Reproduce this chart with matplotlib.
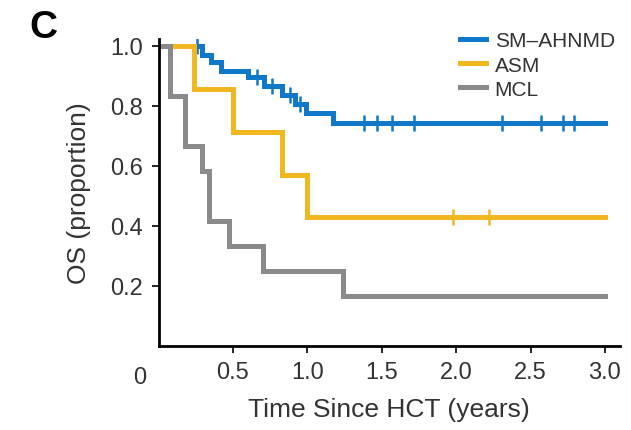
import numpy as np
import matplotlib
matplotlib.use('Agg')
import matplotlib.pyplot as plt

plt.rcParams['font.family'] = ['Liberation Sans', 'DejaVu Sans']

# Kaplan-Meier curves
sm_t = [0, 0.29, 0.35, 0.42, 0.60, 0.71, 0.83, 0.92, 0.99, 1.17, 3.0]
sm_s = [1.0, 0.97, 0.945, 0.918, 0.895, 0.865, 0.835, 0.805, 0.775, 0.743, 0.743]
sm_cens = [0.26, 0.66, 0.76, 0.88, 0.95, 1.38, 1.47, 1.57, 1.72, 2.31, 2.57, 2.72, 2.79]

asm_t = [0, 0.24, 0.50, 0.83, 1.0, 3.0]
asm_s = [1.0, 0.857, 0.714, 0.571, 0.429, 0.429]
asm_cens = [1.98, 2.22]

mcl_t = [0, 0.08, 0.18, 0.29, 0.34, 0.47, 0.70, 1.24, 3.0]
mcl_s = [1.0, 0.833, 0.667, 0.583, 0.417, 0.333, 0.25, 0.167, 0.167]
mcl_cens = []

labels = ['SM\u2013AHNMD', 'ASM', 'MCL']
colores = ['#0f78c8', '#f0b71e', '#8a8a8a']


def surv_at(t, s, x):
    idx = np.searchsorted(t, x, side='right') - 1
    return np.array(s)[idx]


fig = plt.figure(figsize=(6.31, 4.31), dpi=100)
ax = fig.add_axes([0.2513, 0.195, 0.731, 0.712])

series = [(sm_t, sm_s, sm_cens), (asm_t, asm_s, asm_cens), (mcl_t, mcl_s, mcl_cens)]
for (t, s, c), lab, col in zip(series, labels, colores):
    ax.step(t, s, where='post', color=col, lw=3.6, label=lab, solid_joinstyle='miter')
    if c:
        ax.plot(c, surv_at(t, s, c), ls='none', marker='|', ms=11, mew=1.8, color=col)

ax.set_xlim(0, 3.1)
ax.set_ylim(0, 1.023)
ax.set_xticks([0.5, 1.0, 1.5, 2.0, 2.5, 3.0])
ax.set_yticks([0.2, 0.4, 0.6, 0.8, 1.0])
ax.xaxis.set_major_formatter(matplotlib.ticker.FormatStrFormatter('%.1f'))
ax.yaxis.set_major_formatter(matplotlib.ticker.FormatStrFormatter('%.1f'))

for lado in ['top', 'right']:
    ax.spines[lado].set_visible(False)
for lado in ['left', 'bottom']:
    ax.spines[lado].set_linewidth(2)
ax.tick_params(length=5, width=1.2, labelsize=17, labelcolor='#333333', pad=6)

ax.set_xlabel('Time Since HCT (years)', fontsize=19, color='#333333', labelpad=10)
ax.set_ylabel('OS (proportion)', fontsize=19, color='#333333', labelpad=14)

fig.text(140 / 631, 1 - 378 / 431, '0', fontsize=17, color='#333333', ha='center', va='center')
fig.text(43 / 631, 1 - 28 / 431, 'C', fontsize=28, fontweight='bold', ha='center', va='center')

ax.legend(loc='upper left', bbox_to_anchor=(452 / 631, 1 - 24 / 431),
          bbox_transform=fig.transFigure, frameon=False, fontsize=15,
          handlelength=1.25, handletextpad=0.4, labelspacing=0.25, borderaxespad=0,
          labelcolor='#333333')

plt.savefig('out.png', dpi=100)
